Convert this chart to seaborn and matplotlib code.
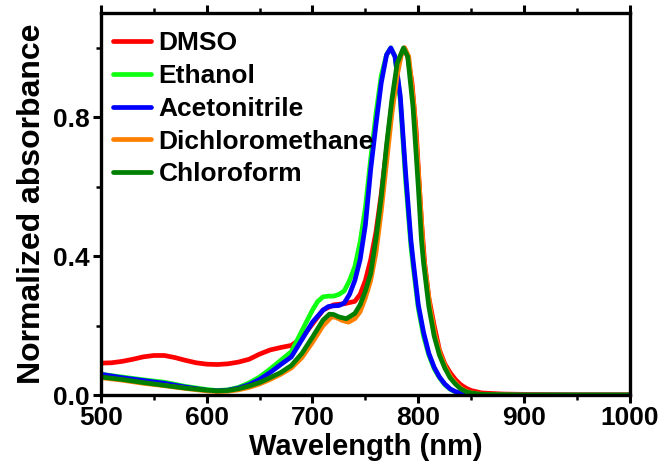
import matplotlib
matplotlib.use("Agg")
import matplotlib.pyplot as plt
import pandas as pd
import seaborn as sns
from matplotlib.ticker import MultipleLocator, FormatStrFormatter

# ---- data (wavelength in nm, normalized absorbance) ----
solvents = ["DMSO", "Ethanol", "Acetonitrile", "Dichloromethane", "Chloroform"]
colors = ["#ff0000", "#11ff11", "#0000ff", "#ff8000", "#007f00"]

dmso_nm = [500, 510, 520, 530, 540, 550, 560, 570, 580, 590, 600, 610, 620, 630, 640, 650,
           660, 670, 680, 690, 700, 710, 720, 730, 740, 745, 750, 755, 760, 765, 770, 775,
           780, 784, 787, 790, 794, 798, 801, 803, 806, 810, 815, 820, 825, 830, 835, 840,
           845, 850, 860, 880, 900, 950, 1000]
dmso_abs = [0.092, 0.093, 0.097, 0.103, 0.110, 0.114, 0.114, 0.108, 0.100, 0.093, 0.089, 0.088,
            0.090, 0.095, 0.103, 0.118, 0.130, 0.137, 0.143, 0.165, 0.205, 0.245, 0.260, 0.263,
            0.270, 0.290, 0.330, 0.390, 0.470, 0.580, 0.710, 0.840, 0.940, 0.985, 1.000, 0.975,
            0.900, 0.760, 0.600, 0.500, 0.380, 0.280, 0.200, 0.130, 0.090, 0.065, 0.045, 0.030,
            0.020, 0.013, 0.006, 0.003, 0.002, 0.001, 0.001]

ethanol_nm = [500, 520, 540, 560, 580, 600, 610, 620, 630, 640, 650, 660, 670, 680, 690, 700,
              705, 710, 715, 720, 725, 730, 735, 740, 745, 750, 755, 760, 765, 770, 774, 778,
              783, 788, 793, 795, 800, 805, 810, 815, 820, 825, 830, 835, 840, 850, 860, 900,
              950, 1000]
ethanol_abs = [0.060, 0.052, 0.044, 0.037, 0.025, 0.016, 0.013, 0.015, 0.022, 0.035, 0.052,
               0.075, 0.100, 0.125, 0.185, 0.245, 0.270, 0.283, 0.285, 0.285, 0.290, 0.300,
               0.330, 0.370, 0.440, 0.540, 0.680, 0.810, 0.920, 0.980, 1.000, 0.975, 0.850,
               0.620, 0.430, 0.375, 0.250, 0.170, 0.115, 0.076, 0.050, 0.030, 0.017, 0.009,
               0.005, 0.002, 0.001, 0.000, 0.000, 0.000]

aceto_nm = [500, 520, 540, 560, 580, 600, 610, 620, 630, 640, 650, 660, 670, 680, 690, 700,
            710, 715, 720, 725, 730, 735, 740, 745, 750, 755, 760, 765, 770, 774, 778, 783,
            788, 793, 795, 800, 805, 810, 815, 820, 825, 830, 835, 840, 850, 860, 900, 950,
            1000]
aceto_abs = [0.060, 0.050, 0.042, 0.034, 0.023, 0.014, 0.012, 0.014, 0.020, 0.030, 0.045,
             0.065, 0.088, 0.110, 0.160, 0.210, 0.245, 0.255, 0.257, 0.258, 0.265, 0.290,
             0.330, 0.390, 0.490, 0.650, 0.780, 0.900, 0.980, 1.000, 0.975, 0.860, 0.640,
             0.446, 0.390, 0.260, 0.180, 0.120, 0.080, 0.052, 0.032, 0.018, 0.010, 0.006,
             0.002, 0.001, 0.000, 0.000, 0.000]

dcm_nm = [500, 520, 540, 560, 580, 600, 610, 620, 630, 640, 650, 660, 670, 680, 690, 700,
          710, 718, 722, 728, 734, 740, 745, 750, 755, 760, 765, 770, 775, 780, 784, 787,
          791, 796, 801, 805, 811, 816, 821, 826, 831, 836, 841, 846, 851, 860, 900, 950, 1000]
dcm_abs = [0.050, 0.043, 0.034, 0.027, 0.019, 0.012, 0.010, 0.011, 0.015, 0.022, 0.032,
           0.045, 0.060, 0.078, 0.108, 0.152, 0.200, 0.225, 0.224, 0.215, 0.210, 0.220,
           0.240, 0.280, 0.330, 0.410, 0.530, 0.670, 0.810, 0.920, 0.980, 1.000, 0.975,
           0.830, 0.600, 0.400, 0.254, 0.170, 0.115, 0.078, 0.050, 0.032, 0.018, 0.010,
           0.006, 0.002, 0.000, 0.000, 0.000]

chloro_nm = [500, 520, 540, 560, 580, 600, 610, 620, 630, 640, 650, 660, 670, 680, 690, 700,
             710, 716, 720, 725, 732, 740, 745, 750, 755, 760, 765, 770, 775, 780, 786, 790,
             795, 800, 803, 805, 810, 815, 820, 825, 830, 835, 840, 845, 850, 860, 900, 950,
             1000]
chloro_abs = [0.052, 0.045, 0.036, 0.028, 0.020, 0.014, 0.012, 0.013, 0.018, 0.026, 0.036,
              0.050, 0.065, 0.085, 0.120, 0.167, 0.216, 0.233, 0.232, 0.225, 0.220, 0.235,
              0.260, 0.300, 0.350, 0.450, 0.570, 0.720, 0.850, 0.955, 1.000, 0.975, 0.830,
              0.600, 0.446, 0.380, 0.254, 0.170, 0.115, 0.078, 0.050, 0.032, 0.018, 0.010,
              0.006, 0.002, 0.000, 0.000, 0.000]

series_nm = [dmso_nm, ethanol_nm, aceto_nm, dcm_nm, chloro_nm]
series_abs = [dmso_abs, ethanol_abs, aceto_abs, dcm_abs, chloro_abs]

frames = []
for name, xs, ys in zip(solvents, series_nm, series_abs):
    frames.append(pd.DataFrame({"nm": xs, "abs": ys, "solvent": name}))
spectra = pd.concat(frames, ignore_index=True)

# ---- style ----
sns.set_theme(style="ticks")
plt.rcParams["font.family"] = ["Liberation Sans", "DejaVu Sans"]
plt.rcParams["font.weight"] = "bold"
plt.rcParams["axes.labelweight"] = "bold"
plt.rcParams["text.color"] = "black"
plt.rcParams["axes.labelcolor"] = "black"
plt.rcParams["xtick.color"] = "black"
plt.rcParams["ytick.color"] = "black"

fig = plt.figure(figsize=(6.68, 4.72), dpi=100)
ax = fig.add_axes([0.151, 0.163, 0.792, 0.809])

sns.lineplot(ax=ax, data=spectra, x="nm", y="abs", hue="solvent", hue_order=solvents,
             palette=colors, estimator=None, linewidth=3.4)

ax.set_xlim(500, 1000)
ax.set_ylim(0, 1.1)
ax.xaxis.set_major_locator(MultipleLocator(100))
ax.xaxis.set_minor_locator(MultipleLocator(50))
ax.yaxis.set_major_locator(MultipleLocator(0.4))
ax.yaxis.set_minor_locator(MultipleLocator(0.2))
ax.yaxis.set_major_formatter(FormatStrFormatter("%.1f"))

for side in ["left", "bottom", "right", "top"]:
    ax.spines[side].set_linewidth(2.4)
    ax.spines[side].set_color("black")

ax.tick_params(which="major", direction="out", length=6, width=2.2, labelsize=19,
               labelcolor="black", color="black", pad=2)
ax.tick_params(which="minor", direction="out", length=3.5, width=1.8, color="black")
ax.tick_params(axis="x", which="both", top=True, labeltop=False)

ax.set_xlabel("Wavelength (nm)", fontsize=21, fontweight="bold", labelpad=2)
ax.set_ylabel("Normalized absorbance", fontsize=23, fontweight="bold", labelpad=4)

leg = ax.legend(loc="upper left", bbox_to_anchor=(0.003, 0.98), frameon=False,
                fontsize=19, handlelength=1.45, handletextpad=0.27, labelspacing=0.33,
                borderaxespad=0.0)
for line in leg.get_lines():
    line.set_linewidth(3.4)
for txt in leg.get_texts():
    txt.set_fontweight("bold")
    txt.set_color("black")

fig.savefig("out.png", dpi=100)
plt.close(fig)
